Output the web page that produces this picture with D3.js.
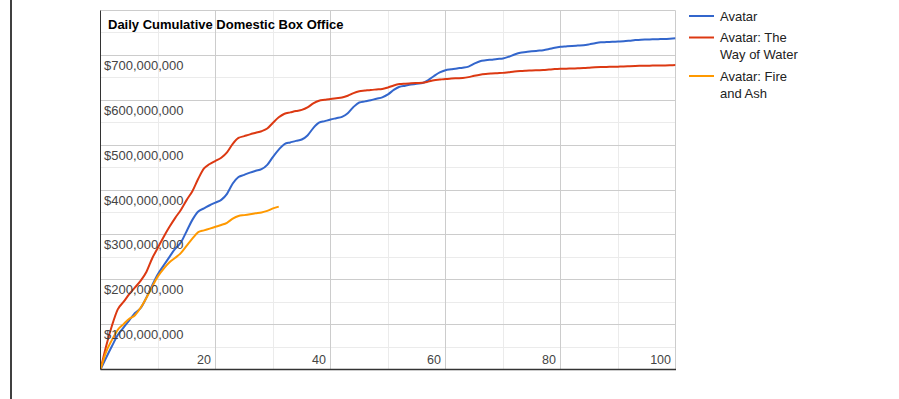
<!DOCTYPE html>
<html><head><meta charset="utf-8">
<script src="https://cdn.jsdelivr.net/npm/d3@7"></script>
<style>
html,body{margin:0;padding:0;background:#fff;}
svg{display:block;font-family:"Liberation Sans",Arial,sans-serif;}
</style></head>
<body><svg id="c" width="899" height="399"></svg>
<script>
// Cumulative domestic box office, millions of USD, by day of release (day 0 = 0)
const avatar = [0,26.8,52.3,77.0,93.4,109.5,125.9,137.1,160.8,188.0,212.7,232.1,251.1,269.1,283.6,308.8,334.0,352.1,359.0,366.0,372.0,378.0,391.5,414.5,429.0,433.8,438.8,442.8,446.4,456.0,474.0,490.0,502.5,506.0,509.5,512.5,521.5,538.0,550.0,553.5,557.0,560.0,563.0,571.0,585.0,595.0,597.5,600.0,603.5,606.5,613.0,623.0,630.0,632.5,635.0,637.0,638.5,645.0,654.0,662.0,667.0,669.0,671.0,672.5,675.0,681.5,687.0,689.0,690.5,692.0,693.2,697.0,702.0,706.0,707.5,709.0,710.3,711.5,714.0,717.0,719.0,720.0,721.0,721.8,722.5,724.5,727.0,729.0,729.6,730.2,730.8,731.4,732.6,734.0,735.0,735.4,735.8,736.2,736.6,737.3,738.2];
const wayOfWater = [0,53.0,98.0,134.0,150.5,168.0,183.0,198.0,218.0,248.0,272.0,296.0,318.0,338.0,356.0,378.0,398.0,425.0,448.0,458.0,465.0,472.0,484.0,503.0,516.0,520.0,524.0,527.5,531.0,537.0,550.0,562.0,570.0,573.0,576.0,578.5,584.0,593.0,599.0,601.0,603.0,604.5,606.0,610.0,616.0,620.0,621.5,623.0,624.0,625.0,628.5,633.0,636.0,637.0,637.7,638.4,639.0,641.5,644.5,646.0,647.5,648.3,649.0,649.6,651.5,654.5,657.0,658.5,659.5,660.3,661.0,662.5,664.0,665.0,665.7,666.3,666.9,667.4,668.4,669.4,670.0,670.4,670.8,671.2,671.6,672.4,673.3,674.0,674.3,674.6,674.9,675.2,675.8,676.4,676.8,677.0,677.2,677.4,677.6,678.0,678.4];
const fireAndAsh = [0,40.0,66.0,88.5,101.0,113.0,121.0,138.0,160.0,185.0,208.0,225.0,239.0,249.0,260.0,276.0,292.0,306.0,310.0,314.0,318.0,322.0,327.0,336.0,342.0,344.0,346.0,348.0,350.0,353.5,359.0,363.0];
const seriesNames = ["Avatar","Avatar: The Way of Water","Avatar: Fire and Ash"];
const legendLines = [["Avatar"],["Avatar: The","Way of Water"],["Avatar: Fire","and Ash"]];
const seriesColors = ["#3366cc","#dc3912","#ff9900"];
const yTicks = [100,200,300,400,500,600,700];
const xTicks = [20,40,60,80,100];
const title = "Daily Cumulative Domestic Box Office";

const svg = d3.select("#c");
const L = 100.5, R = 675.5, T = 10.5, B = 369.5;
const x = d3.scaleLinear().domain([0,100]).range([L,R]);
const y = d3.scaleLinear().domain([0,800]).range([B,T]);
const snap = v => Math.round(v - 0.5) + 0.5;

// container left border
svg.append("line").attr("x1",11).attr("x2",11).attr("y1",0).attr("y2",399)
  .attr("stroke","#000").attr("stroke-width",1.5);

const g = svg.append("g");
// minor gridlines
d3.range(50,800,100).forEach(v=>{
  g.append("line").attr("x1",L).attr("x2",R).attr("y1",snap(y(v))).attr("y2",snap(y(v)))
   .attr("stroke","#ebebeb").attr("stroke-width",1);
});
d3.range(10,100,20).forEach(v=>{
  g.append("line").attr("y1",T).attr("y2",B).attr("x1",snap(x(v))).attr("x2",snap(x(v)))
   .attr("stroke","#ebebeb").attr("stroke-width",1);
});
// major gridlines
d3.range(100,801,100).forEach(v=>{
  g.append("line").attr("x1",L).attr("x2",R).attr("y1",snap(y(v))).attr("y2",snap(y(v)))
   .attr("stroke","#cccccc").attr("stroke-width",1);
});
d3.range(20,101,20).forEach(v=>{
  g.append("line").attr("y1",T).attr("y2",B).attr("x1",snap(x(v))).attr("x2",snap(x(v)))
   .attr("stroke","#cccccc").attr("stroke-width",1);
});

// lines
svg.append("clipPath").attr("id","clip").append("rect")
  .attr("x",L).attr("y",T-2).attr("width",R-L).attr("height",B-T+2);
const lineGen = d3.line().x((d,i)=>x(i)).y(d=>y(d)).curve(d3.curveMonotoneX);
const data = [avatar, wayOfWater, fireAndAsh];
const lg = svg.append("g").attr("clip-path","url(#clip)");
data.forEach((s,k)=>{
  lg.append("path").datum(s).attr("d",lineGen).attr("fill","none")
    .attr("stroke",seriesColors[k]).attr("stroke-width",2)
    .attr("stroke-linejoin","round");
});

// baselines
svg.append("line").attr("x1",L).attr("x2",L).attr("y1",T).attr("y2",B).attr("stroke","#333").attr("stroke-width",1);
svg.append("line").attr("x1",L).attr("x2",R+0.5).attr("y1",B).attr("y2",B).attr("stroke","#333").attr("stroke-width",1.5);

// y tick labels (inside)
const fmt = d3.format(",");
yTicks.forEach(v=>{
  svg.append("text").attr("x",104).attr("y",y(v)+14.5)
    .attr("font-size",13).attr("fill","#444").text("$"+fmt(v*1e6));
});
// x tick labels (inside)
xTicks.forEach(v=>{
  svg.append("text").attr("x",x(v)-4.5).attr("y",364).attr("text-anchor","end")
    .attr("font-size",12.5).attr("fill","#444").text(v);
});

// title
svg.append("text").attr("x",108).attr("y",29).attr("font-size",13).attr("font-weight","bold")
  .attr("fill","#000").text(title);

// legend
const legY = [16, 37.5, 76];
seriesNames.forEach((n,k)=>{
  svg.append("line").attr("x1",689).attr("x2",714).attr("y1",legY[k]).attr("y2",legY[k])
    .attr("stroke",seriesColors[k]).attr("stroke-width",2);
  legendLines[k].forEach((t,j)=>{
    svg.append("text").attr("x",720).attr("y",legY[k]+4.5+j*17)
      .attr("font-size",13).attr("fill","#222").text(t);
  });
});
</script>
</body></html>
